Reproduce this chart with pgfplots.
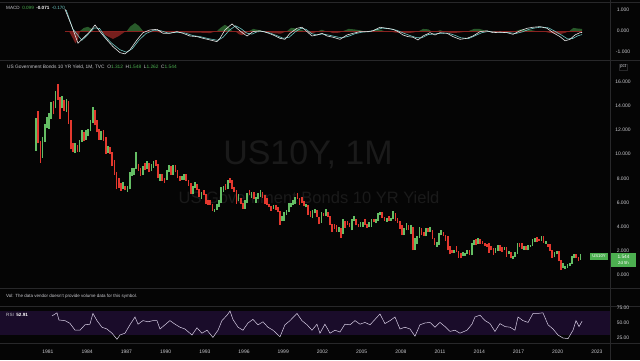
\documentclass[border=0pt]{standalone}
\usepackage{pgfplots}
\pgfplotsset{compat=1.18}
\usepackage{pgfplotstable}
\usepackage{fontspec}
\setmainfont{Liberation Sans}
\definecolor{bg}{RGB}{5,5,5}
\definecolor{sepc}{RGB}{40,40,42}
\definecolor{axtext}{RGB}{200,200,205}
\definecolor{upc}{RGB}{100,190,100}
\definecolor{dnc}{RGB}{228,56,46}
\definecolor{tagg}{RGB}{76,175,80}
\definecolor{wm}{RGB}{26,26,26}
\definecolor{rsiband}{RGB}{26,12,42}
\definecolor{rsiline}{RGB}{218,208,232}
\definecolor{macdw}{RGB}{230,230,230}
\definecolor{macds}{RGB}{110,200,195}
\definecolor{histg}{RGB}{76,175,80}
\definecolor{histr}{RGB}{229,57,53}

\pgfplotstableread{
x lo hi d
1980.08 10.3 13.0 1
1980.25 10.9 13.6 0
1980.42 9.3 11.1 0
1980.58 9.7 11.4 1
1980.75 11.0 12.5 1
1980.92 12.2 13.1 1
1981.08 12.1 13.4 1
1981.25 12.9 14.3 1
1981.42 13.3 14.4 0
1981.58 13.8 15.2 1
1981.75 14.5 15.85 0
1981.92 12.9 14.7 0
1982.08 13.8 14.8 1
1982.25 13.6 14.5 0
1982.42 13.5 14.6 1
1982.58 12.5 14.4 0
1982.75 10.4 12.8 0
1982.92 10.2 10.9 0
1983.08 10.1 10.9 1
1983.25 10.2 10.8 0
1983.42 10.2 11.2 1
1983.58 11.0 12.0 1
1983.75 11.1 11.8 0
1983.92 11.2 12.0 1
1984.08 11.5 12.1 1
1984.25 11.9 12.8 1
1984.42 12.6 13.95 1
1984.58 12.4 13.7 0
1984.75 11.8 12.8 0
1984.92 11.2 12.1 0
1985.08 11.2 11.9 1
1985.25 11.1 12.0 0
1985.42 10.0 11.4 0
1985.58 10.1 10.7 1
1985.75 10.0 10.6 0
1985.92 9.0 10.2 0
1986.08 8.3 9.5 0
1986.25 7.1 8.5 0
1986.42 7.2 8.0 0
1986.58 6.95 7.6 0
1986.75 7.1 7.7 1
1986.92 7.0 7.4 0
1987.08 6.9 7.4 1
1987.25 7.1 8.5 1
1987.42 8.2 8.9 1
1987.58 8.3 8.9 1
1987.75 8.8 10.2 1
1987.92 8.6 9.2 0
1988.08 8.2 8.9 0
1988.25 8.3 9.0 1
1988.42 8.7 9.3 0
1988.58 8.8 9.4 1
1988.75 8.5 9.3 0
1988.92 8.6 9.2 1
1989.08 8.9 9.4 1
1989.25 9.0 9.5 0
1989.42 8.0 9.2 0
1989.58 7.8 8.4 1
1989.75 7.8 8.4 0
1989.92 7.6 8.0 0
1990.08 7.9 8.7 1
1990.25 8.5 9.1 1
1990.42 8.3 9.0 0
1990.58 8.3 9.1 1
1990.75 8.5 9.1 0
1990.92 8.0 8.7 0
1991.08 7.8 8.2 0
1991.25 7.9 8.2 1
1991.42 7.9 8.4 1
1991.58 7.8 8.4 0
1991.75 7.4 7.9 0
1991.92 6.7 7.6 0
1992.08 6.7 7.4 1
1992.25 7.2 7.7 1
1992.42 7.0 7.5 0
1992.58 6.5 7.1 0
1992.75 6.3 6.9 1
1992.92 6.6 7.0 0
1993.08 5.9 6.7 0
1993.25 5.8 6.2 0
1993.42 5.8 6.2 0
1993.58 5.3 5.9 0
1993.75 5.2 5.5 1
1993.92 5.4 5.9 1
1994.08 5.6 6.2 1
1994.25 6.0 7.3 1
1994.42 6.9 7.4 1
1994.58 7.0 7.5 0
1994.75 7.1 7.9 1
1994.92 7.6 8.05 0
1995.08 7.1 7.9 0
1995.25 6.9 7.3 0
1995.42 5.9 7.0 0
1995.58 6.1 6.7 1
1995.75 5.9 6.4 0
1995.92 5.5 6.0 0
1996.08 5.5 6.2 1
1996.25 6.0 6.8 1
1996.42 6.6 7.0 0
1996.58 6.4 6.9 1
1996.75 6.3 6.9 0
1996.92 6.0 6.5 1
1997.08 6.3 6.8 1
1997.25 6.5 7.0 1
1997.42 6.4 6.9 0
1997.58 5.9 6.6 0
1997.75 5.8 6.4 0
1997.92 5.6 5.9 0
1998.08 5.3 5.7 0
1998.25 5.5 5.8 1
1998.42 5.4 5.8 0
1998.58 5.2 5.6 0
1998.75 4.15 5.3 0
1998.92 4.5 4.9 1
1999.08 4.5 5.2 1
1999.25 5.0 5.4 1
1999.42 5.2 6.0 1
1999.58 5.6 6.0 1
1999.75 5.8 6.2 1
1999.92 5.9 6.5 1
2000.08 6.3 6.8 0
2000.25 5.8 6.4 0
2000.42 5.95 6.5 0
2000.58 5.7 6.1 0
2000.75 5.6 5.9 1
2000.92 5.0 5.8 0
2001.08 4.8 5.3 0
2001.25 4.7 5.4 1
2001.42 5.1 5.5 1
2001.58 4.8 5.4 0
2001.75 4.2 4.8 0
2001.92 4.3 5.2 1
2002.08 4.85 5.15 0
2002.25 4.9 5.45 1
2002.42 4.8 5.2 0
2002.58 4.1 4.9 0
2002.75 3.6 4.2 0
2002.92 3.8 4.25 0
2003.08 3.6 4.1 0
2003.25 3.6 4.0 1
2003.42 3.1 3.9 0
2003.58 3.4 4.6 1
2003.75 3.9 4.5 0
2003.92 4.1 4.5 0
2004.08 3.95 4.3 0
2004.25 3.7 4.6 1
2004.42 4.5 4.9 1
2004.58 4.1 4.6 0
2004.75 3.95 4.2 0
2004.92 4.0 4.4 1
2005.08 4.0 4.4 1
2005.25 4.15 4.65 0
2005.42 3.9 4.2 0
2005.58 3.95 4.4 1
2005.75 4.0 4.6 1
2005.92 4.35 4.65 0
2006.08 4.3 4.65 1
2006.25 4.5 5.15 1
2006.42 4.95 5.25 1
2006.58 4.7 5.2 0
2006.75 4.5 4.8 0
2006.92 4.4 4.75 1
2007.08 4.5 4.9 0
2007.25 4.5 4.75 1
2007.42 4.6 5.3 1
2007.58 4.5 5.1 0
2007.75 4.3 4.7 0
2007.92 3.8 4.5 0
2008.08 3.3 4.1 0
2008.25 3.3 3.9 1
2008.42 3.7 4.3 1
2008.58 3.75 4.15 0
2008.75 3.4 4.1 1
2008.92 2.05 3.95 0
2009.08 2.1 3.05 1
2009.25 2.55 3.2 1
2009.42 3.1 4.0 1
2009.58 3.3 3.9 0
2009.75 3.2 3.6 0
2009.92 3.2 3.9 1
2010.08 3.55 3.9 0
2010.25 3.6 4.0 1
2010.42 2.95 3.7 0
2010.58 2.45 3.05 0
2010.75 2.35 2.75 1
2010.92 2.5 3.5 1
2011.08 3.3 3.75 1
2011.25 3.2 3.6 0
2011.42 2.85 3.3 0
2011.58 2.05 3.2 0
2011.75 1.7 2.4 0
2011.92 1.8 2.1 0
2012.08 1.8 2.1 1
2012.25 1.9 2.4 0
2012.42 1.44 1.95 0
2012.58 1.38 1.85 0
2012.75 1.6 1.87 1
2012.92 1.58 1.85 1
2013.08 1.75 2.05 1
2013.25 1.63 2.05 0
2013.42 1.62 2.65 1
2013.58 2.45 2.93 1
2013.75 2.5 3.0 0
2013.92 2.55 3.05 1
2014.08 2.58 3.0 0
2014.25 2.6 2.8 0
2014.42 2.4 2.65 0
2014.58 2.33 2.6 0
2014.75 1.86 2.65 0
2014.92 2.05 2.4 0
2015.08 1.65 2.2 0
2015.25 1.85 2.2 1
2015.42 2.0 2.5 1
2015.58 2.0 2.45 0
2015.75 1.9 2.3 0
2015.92 2.1 2.35 1
2016.08 1.53 2.3 0
2016.25 1.7 1.97 1
2016.42 1.4 1.9 0
2016.58 1.32 1.6 1
2016.75 1.53 1.87 1
2016.92 1.78 2.64 1
2017.08 2.3 2.64 0
2017.25 2.17 2.63 0
2017.42 2.1 2.42 1
2017.58 2.1 2.4 0
2017.75 2.03 2.45 1
2017.92 2.3 2.5 1
2018.08 2.4 2.95 1
2018.25 2.72 3.03 1
2018.42 2.75 3.12 0
2018.58 2.8 3.0 0
2018.75 2.81 3.26 1
2018.92 2.63 3.24 0
2019.08 2.6 2.8 1
2019.25 2.35 2.6 0
2019.42 1.97 2.6 0
2019.58 1.43 2.1 0
2019.75 1.45 1.9 1
2019.92 1.7 1.97 1
2020.08 1.13 1.95 0
2020.25 0.4 1.28 0
2020.42 0.55 0.96 1
2020.58 0.5 0.74 1
2020.75 0.62 0.89 1
2020.92 0.76 0.98 1
2021.08 0.9 1.61 1
2021.25 1.39 1.77 1
2021.42 1.43 1.7 0
2021.58 1.13 1.48 0
2021.75 1.26 1.7 1
}\candles

\pgfplotsset{
  tvpanel/.style={
    scale only axis, width=610pt, xmin=1977.33, xmax=2024,
    anchor=south west,
    axis line style={draw=none}, tick style={draw=none},
    xtick=\empty, yticklabel pos=right,
    ticklabel style={font=\fontsize{5}{6}\selectfont, text=axtext},
    /pgf/number format/assume math mode=true,
    /pgf/number format/1000 sep={},
    yticklabel style={anchor=center, xshift=13pt},
  }
}

\begin{document}
\begin{tikzpicture}
\useasboundingbox (0pt,0pt) rectangle (640pt,360pt);
\fill[bg] (0pt,0pt) rectangle (640pt,360pt);
% watermark
\node[text=wm, font=\fontsize{34}{36}\selectfont] at (308pt,205pt) {US10Y, 1M};
\node[text=wm, font=\fontsize{16.5}{18}\selectfont] at (309pt,162pt) {US Government Bonds 10 YR Yield};
% separators
\draw[sepc, line width=0.6pt] (0pt,300pt) -- (640pt,300pt);
\draw[sepc, line width=0.6pt] (0pt,72pt) -- (640pt,72pt);
\draw[sepc, line width=0.6pt] (0pt,54pt) -- (640pt,54pt);
\draw[sepc, line width=0.6pt] (0pt,17pt) -- (640pt,17pt);
\draw[sepc, line width=0.6pt] (610pt,0pt) -- (610pt,360pt);
\draw[sepc, line width=0.6pt] (0pt,358pt) -- (640pt,358pt);

% ---------------- MACD panel
\begin{axis}[tvpanel, at={(0pt,301pt)}, height=56pt,
  ymin=-1.346, ymax=1.346, ytick={-1,0,1},
  yticklabel={\pgfmathprintnumber[fixed,fixed zerofill,precision=3]{\tick}}]
\addplot[draw=none, fill=histg, fill opacity=0.5] coordinates {
(1982.3,0)(1983.45,0)(1983.75,0.15)(1984.06,0.2)(1984.3,0.12)(1984.44,0)
(1987.04,0)(1987.3,0.22)(1987.66,0.38)(1987.95,0.25)(1988.27,0)
(1993.93,0)(1994.2,0.15)(1994.54,0.3)(1994.8,0.2)(1995.08,0)
(1996.4,0)(1996.7,0.1)(1997.1,0.05)(1997.4,0)
(1999.3,0)(1999.6,0.15)(2000.0,0.12)(2000.4,0.05)(2000.6,0)
(2001.7,0)(2001.95,0.06)(2002.2,0)
(2003.6,0)(2004.0,0.1)(2004.4,0.08)(2004.9,0.03)(2005.1,0)
(2005.8,0)(2006.1,0.1)(2006.5,0.05)(2006.7,0)
(2009.4,0)(2009.7,0.1)(2010.1,0.08)(2010.3,0)
(2010.8,0)(2011.0,0.04)(2011.2,0)
(2013.2,0)(2013.6,0.1)(2014.0,0.1)(2014.4,0.03)(2014.6,0)
(2016.8,0)(2017.2,0.08)(2017.6,0.06)(2018.0,0.04)(2018.3,0)
(2020.9,0)(2021.2,0.15)(2021.5,0.12)(2021.86,0.1)(2021.86,0)
} \closedcycle;
\addplot[draw=none, fill=histr, fill opacity=0.5] coordinates {
(1982.6,0)(1982.9,-0.35)(1983.1,-0.6)(1983.3,-0.4)(1983.45,0)
(1984.98,0)(1985.4,-0.2)(1985.97,-0.38)(1986.4,-0.25)(1986.97,0)
(1988.4,0)(1988.8,-0.06)(1989.2,-0.03)(1989.6,-0.08)(1989.95,0)
(1990.3,0)(1991.0,-0.05)(1991.8,-0.08)(1992.6,-0.08)(1993.4,-0.1)(1993.93,0)
(1995.3,0)(1995.6,-0.15)(1995.84,-0.2)(1996.1,-0.12)(1996.4,0)
(1997.6,0)(1998.2,-0.1)(1998.8,-0.13)(1999.3,0)
(2000.7,0)(2001.0,-0.12)(2001.4,-0.08)(2001.7,0)
(2002.3,0)(2002.8,-0.1)(2003.3,-0.08)(2003.6,0)
(2007.0,0)(2007.6,-0.08)(2008.3,-0.1)(2008.9,-0.08)(2009.4,0)
(2011.3,0)(2011.8,-0.1)(2012.4,-0.08)(2013.0,-0.03)(2013.2,0)
(2015.0,0)(2015.5,-0.04)(2016.3,-0.06)(2016.8,0)
(2018.8,0)(2019.3,-0.08)(2019.8,-0.12)(2020.2,-0.15)(2020.6,-0.08)(2020.9,0)
} \closedcycle;
\addplot[histr!60!black, line width=0.4pt] coordinates {(1982.3,0)(2021.86,0)};
% signal
\addplot[macds, line width=0.6pt] coordinates {
(1982.40,1.0)(1982.90,0.1)(1983.60,-0.45)(1984.00,-0.2)(1984.55,0.15)(1984.95,0.12)
(1985.35,-0.25)(1985.90,-0.6)(1986.50,-0.9)(1987.00,-1.02)(1987.45,-0.85)(1987.95,-0.45)
(1988.50,-0.12)(1989.10,0.04)(1989.60,0.02)(1990.20,-0.10)(1990.90,-0.06)(1991.50,-0.10)
(1992.10,-0.22)(1992.70,-0.28)(1993.30,-0.37)(1994.00,-0.45)(1994.40,-0.30)(1994.85,0.02)
(1995.35,0.25)(1995.75,0.12)(1996.20,-0.10)(1996.60,-0.15)(1997.00,-0.04)(1997.50,-0.02)
(1998.00,-0.10)(1998.50,-0.22)(1999.00,-0.35)(1999.45,-0.30)(1999.90,-0.05)(2000.35,0.13)
(2000.75,0.08)(2001.15,-0.12)(2001.55,-0.19)(2002.00,-0.14)(2002.50,-0.20)(2003.00,-0.27)
(2003.50,-0.33)(2004.00,-0.25)(2004.50,-0.13)(2005.00,-0.06)(2005.60,-0.03)(2006.10,0.06)
(2006.60,0.14)(2007.20,0.10)(2007.70,0.03)(2008.20,-0.10)(2008.70,-0.22)(2009.20,-0.32)
(2009.60,-0.33)(2010.10,-0.17)(2010.60,-0.14)(2011.10,-0.11)(2011.60,-0.10)(2012.10,-0.20)
(2012.60,-0.33)(2013.20,-0.36)(2013.70,-0.22)(2014.20,-0.08)(2014.70,-0.02)(2015.20,-0.05)
(2015.70,-0.06)(2016.30,-0.08)(2016.80,-0.12)(2017.30,-0.04)(2017.80,0.08)(2018.30,0.15)
(2018.80,0.19)(2019.30,0.15)(2019.80,-0.02)(2020.30,-0.20)(2020.75,-0.38)(2021.15,-0.36)
(2021.50,-0.24)(2021.86,-0.17)};
% macd
\addplot[macdw, line width=0.6pt] coordinates {
(1982.30,1.05)(1982.84,0.2)(1983.30,-0.59)(1983.68,-0.35)(1984.21,-0.03)(1984.60,0.29)
(1984.98,-0.03)(1985.51,-0.43)(1985.97,-0.75)(1986.51,-1.04)(1986.89,-1.10)(1987.27,-0.91)
(1987.81,-0.43)(1988.27,-0.08)(1988.80,0.05)(1989.34,0.08)(1989.80,-0.11)(1990.33,-0.11)
(1990.87,-0.03)(1991.33,-0.11)(1991.86,-0.24)(1992.40,-0.27)(1992.86,-0.35)(1993.39,-0.43)
(1993.93,-0.51)(1994.16,-0.35)(1994.54,0.05)(1995.08,0.34)(1995.46,0.13)(1995.92,-0.11)
(1996.23,-0.24)(1996.68,-0.03)(1997.22,0.01)(1997.76,-0.08)(1998.22,-0.19)(1998.75,-0.35)
(1999.13,-0.40)(1999.52,-0.11)(2000.05,0.13)(2000.43,0.18)(2000.82,-0.03)(2001.20,-0.24)
(2001.58,-0.19)(2001.96,-0.11)(2002.35,-0.24)(2002.81,-0.30)(2003.34,-0.40)(2003.88,-0.19)
(2004.34,-0.11)(2004.87,-0.03)(2005.41,-0.03)(2005.87,0.01)(2006.40,0.18)(2006.94,0.13)
(2007.40,0.08)(2007.78,-0.03)(2008.16,-0.19)(2008.54,-0.27)(2008.93,-0.30)(2009.31,-0.43)
(2009.69,-0.24)(2010.23,-0.08)(2010.61,-0.19)(2010.99,-0.08)(2011.53,-0.11)(2011.99,-0.27)
(2012.52,-0.40)(2013.06,-0.35)(2013.52,-0.24)(2014.05,-0.03)(2014.59,0.01)(2015.05,-0.08)
(2015.58,-0.06)(2016.12,-0.08)(2016.58,-0.16)(2017.11,0.01)(2017.65,0.13)(2018.11,0.18)
(2018.64,0.21)(2019.18,0.13)(2019.64,-0.08)(2020.17,-0.27)(2020.56,-0.47)(2020.94,-0.40)
(2021.32,-0.19)(2021.70,-0.08)(2021.86,-0.07)};
\end{axis}

% ---------------- Price panel
\begin{axis}[tvpanel, at={(0pt,72pt)}, height=227pt,
  ymin=-1.076, ymax=17.72, ytick={0,2,...,16},
  yticklabel={\pgfmathprintnumber[fixed,fixed zerofill,precision=3]{\tick}},
  quiver/every arrow/.append style={line width=1.7pt}]
\addplot[dnc, line width=1.7pt, quiver={u=0, v={\thisrow{hi}-\thisrow{lo}}},
  restrict expr to domain={\thisrow{d}}{-0.5:0.5}] table[x=x, y=lo] {\candles};
\addplot[upc, line width=1.7pt, quiver={u=0, v={\thisrow{hi}-\thisrow{lo}}},
  restrict expr to domain={\thisrow{d}}{0.5:1.5}] table[x=x, y=lo] {\candles};
\end{axis}

% ---------------- RSI panel
\begin{axis}[tvpanel, at={(0pt,17pt)}, height=36pt,
  ymin=16.67, ymax=76.67, ytick={25,50,75},
  yticklabel={\pgfmathprintnumber[fixed,fixed zerofill,precision=2]{\tick}},
  xtick={1981,1984,...,2023},
  xticklabel style={yshift=-3.5pt}]
\fill[rsiband] (axis cs:1977.33,30) rectangle (axis cs:2024,70);
\addplot[rsiline, line width=0.5pt] coordinates {
(1981.31,61.7)(1981.69,67)(1981.84,55)(1982.30,54)(1982.68,49.5)(1983.07,38)(1983.45,38)
(1983.83,47)(1984.21,48)(1984.44,66)(1984.75,54)(1985.13,43)(1985.51,40)(1985.90,33)
(1986.28,23)(1986.51,30)(1986.89,33)(1987.27,47)(1987.66,60)(1987.89,48)(1988.27,54)
(1988.65,52)(1989.03,54)(1989.34,54)(1989.57,40)(1989.95,47)(1990.33,54)(1990.72,48)
(1991.10,43)(1991.48,40)(1992.02,30)(1992.40,42)(1992.78,33)(1993.17,38)(1993.62,26)
(1994.01,38)(1994.31,54)(1994.70,63)(1994.93,70)(1995.15,56)(1995.54,43)(1995.92,38)
(1996.30,50)(1996.68,56)(1997.07,47)(1997.45,52)(1997.83,43)(1998.22,38)(1998.75,27)
(1999.13,47)(1999.52,54)(2000.05,66)(2000.43,54)(2000.82,47)(2001.20,38)(2001.58,48)
(2001.81,33)(2002.19,48)(2002.58,33)(2002.96,38)(2003.34,35)(2003.72,48)(2004.11,47)
(2004.49,54)(2004.87,48)(2005.25,51)(2005.64,47)(2006.02,56)(2006.40,65)(2006.78,49)
(2007.17,54)(2007.55,60)(2007.93,40)(2008.31,43)(2008.70,40)(2009.08,28)(2009.46,47)
(2009.84,50)(2010.23,51)(2010.61,43)(2010.99,51)(2011.38,44)(2011.76,36)(2012.14,38)
(2012.52,33)(2013.06,38)(2013.44,48)(2013.67,60)(2014.05,63)(2014.44,54)(2014.82,49)
(2015.20,36)(2015.58,49)(2015.97,44)(2016.35,43)(2016.73,38)(2016.96,60)(2017.34,54)
(2017.73,51)(2018.11,66)(2018.49,66)(2018.87,67)(2019.26,47)(2019.64,40)(2020.02,30)
(2020.40,25)(2020.79,24)(2021.17,38)(2021.40,54)(2021.63,44)(2021.86,52.9)};
\end{axis}

% ---------------- legends and tags
\node[anchor=west, inner sep=0pt, font=\fontsize{4.6}{5}\selectfont] at (6pt,352pt)
  {\textcolor{axtext}{MACD}\ \ \textcolor{tagg}{0.099}\ \ \textcolor{white}{\bfseries -0.071}\ \ \textcolor{macds}{-0.170}};
\node[anchor=west, inner sep=0pt, font=\fontsize{4.8}{5}\selectfont] at (7pt,293pt)
  {\textcolor{axtext}{US Government Bonds 10 YR Yield, 1M, TVC}\ \ \textcolor{axtext}{O}\textcolor{tagg}{1.312}\ \ \textcolor{axtext}{H}\textcolor{tagg}{1.548}\ \ \textcolor{axtext}{L}\textcolor{tagg}{1.262}\ \ \textcolor{axtext}{C}\textcolor{tagg}{1.544}};
\node[anchor=west, inner sep=0pt, font=\fontsize{4.5}{5}\selectfont, text=axtext] at (6pt,64pt)
  {Vol: The data vendor doesn't provide volume data for this symbol.};
\node[anchor=west, inner sep=0pt, font=\fontsize{4.6}{5}\selectfont] at (6pt,45.5pt)
  {\textcolor{axtext}{RSI}\ \ \textcolor{white}{\bfseries 52.91}};
\node[draw=sepc, text=axtext, inner sep=1pt, font=\fontsize{4.5}{5}\selectfont] at (623pt,293pt) {pct};
\node[fill=tagg, text=white, inner sep=0pt, minimum width=18pt, minimum height=7pt, font=\fontsize{4.2}{5}\selectfont] at (599pt,103.5pt) {US10Y};
\fill[tagg] (611pt,93pt) rectangle (636pt,107.5pt);
\node[text=white, inner sep=0pt, font=\fontsize{4.8}{5}\selectfont] at (623.5pt,103.5pt) {1.544};
\node[text=white, inner sep=0pt, font=\fontsize{4.3}{5}\selectfont] at (623.5pt,97pt) {2d 5h};
\end{tikzpicture}
\end{document}
